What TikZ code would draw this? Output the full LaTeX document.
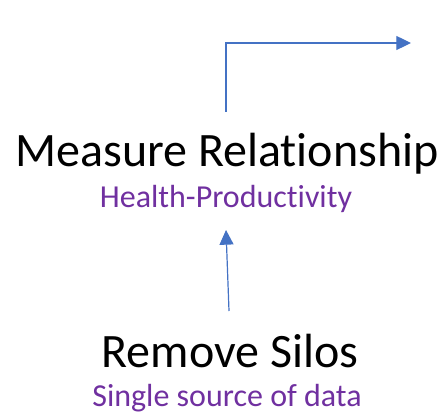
\documentclass[tikz,border=0pt]{standalone}
\usepackage{fontspec}
\setmainfont{Carlito}[RawFeature=-liga]
\usetikzlibrary{positioning, arrows.meta}
\definecolor{arrowblue}{HTML}{4472C4}
\definecolor{subpurple}{HTML}{7030A0}

\begin{document}
\begin{tikzpicture}[x=0.75pt, y=-0.75pt,
     title/.style = {anchor=base, inner sep=0pt, font=\fontsize{36}{42}\selectfont},
       sub/.style = {anchor=base, inner sep=0pt, text=subpurple, font=\fontsize{24}{28}\selectfont},
      conn/.style = {draw=arrowblue, line width=0.9pt, -{Triangle[length=11pt, width=10.5pt]}}
                    ]
\useasboundingbox (0,0) rectangle (441,416);
\node (measure)[title] at (227,167) {Measure Relationship};
\node (health) [sub]   at (226,208) {Health-Productivity};
\node (remove) [title] at (230,367) {Remove Silos};
\node (single) [sub]   at (227,406) {Single source of data};
\coordinate (up)   at (226,112);
\coordinate (next) at (411,43);
\coordinate (from) at (229,311);
\coordinate (to)   at (226,230);
\draw[conn] (up) |- (next);
\draw[conn] (from) -- (to);
\end{tikzpicture}
\end{document}
